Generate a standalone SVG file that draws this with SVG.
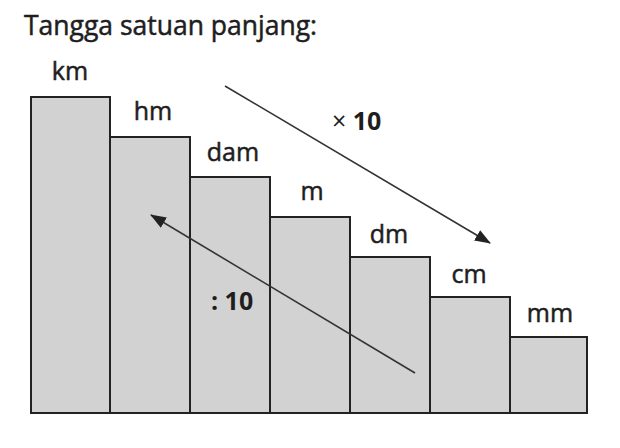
<svg xmlns="http://www.w3.org/2000/svg" width="620" height="448" viewBox="0 0 620 448">
<style>
.bar{fill:#d2d2d2;stroke:#222;stroke-width:2}
.lbl{font-family:"Open Sans","DejaVu Sans",sans-serif;font-size:25px;fill:#1e1e1e;stroke:#1e1e1e;stroke-width:0.5;text-anchor:middle}
.title{font-family:"Open Sans","DejaVu Sans",sans-serif;font-size:26.5px;fill:#1e1e1e;stroke:#1e1e1e;stroke-width:0.5}
.op{font-family:"Open Sans","DejaVu Sans",sans-serif;font-size:25px;fill:#1e1e1e;font-weight:bold}
.arr{stroke:#333;stroke-width:1.6;fill:none}
</style>
<defs>
<marker id="ah" markerWidth="16" markerHeight="12" refX="15" refY="6" orient="auto" markerUnits="userSpaceOnUse">
<path d="M0,0 L16,6 L0,12 Z" fill="#222"/>
</marker>
</defs>
<rect width="620" height="448" fill="#fff"/>
<text class="title" x="24" y="35">Tangga satuan panjang:</text>
<g id="km"><rect class="bar" x="31" y="97" width="79" height="316"/><text class="lbl" x="70" y="80">km</text></g>
<g id="hm"><rect class="bar" x="110" y="137" width="80" height="276"/><text class="lbl" x="153" y="120">hm</text></g>
<g id="dam"><rect class="bar" x="190" y="177" width="80" height="236"/><text class="lbl" x="233" y="161">dam</text></g>
<g id="m"><rect class="bar" x="270" y="217" width="80" height="196"/><text class="lbl" x="312" y="200">m</text></g>
<g id="dm"><rect class="bar" x="350" y="257" width="80" height="156"/><text class="lbl" x="389" y="243">dm</text></g>
<g id="cm"><rect class="bar" x="430" y="297" width="80" height="116"/><text class="lbl" x="469" y="283">cm</text></g>
<g id="mm"><rect class="bar" x="510" y="337" width="77" height="76"/><text class="lbl" x="550" y="322">mm</text></g>
<g id="connectors">
<line class="arr" x1="225" y1="86" x2="490" y2="243" marker-end="url(#ah)"/>
<line class="arr" x1="415" y1="373" x2="151" y2="215" marker-end="url(#ah)"/>
</g>
<text class="op" x="332" y="130"><tspan font-weight="normal">×</tspan> 10</text>
<text class="op" x="211" y="310">: 10</text>
</svg>
